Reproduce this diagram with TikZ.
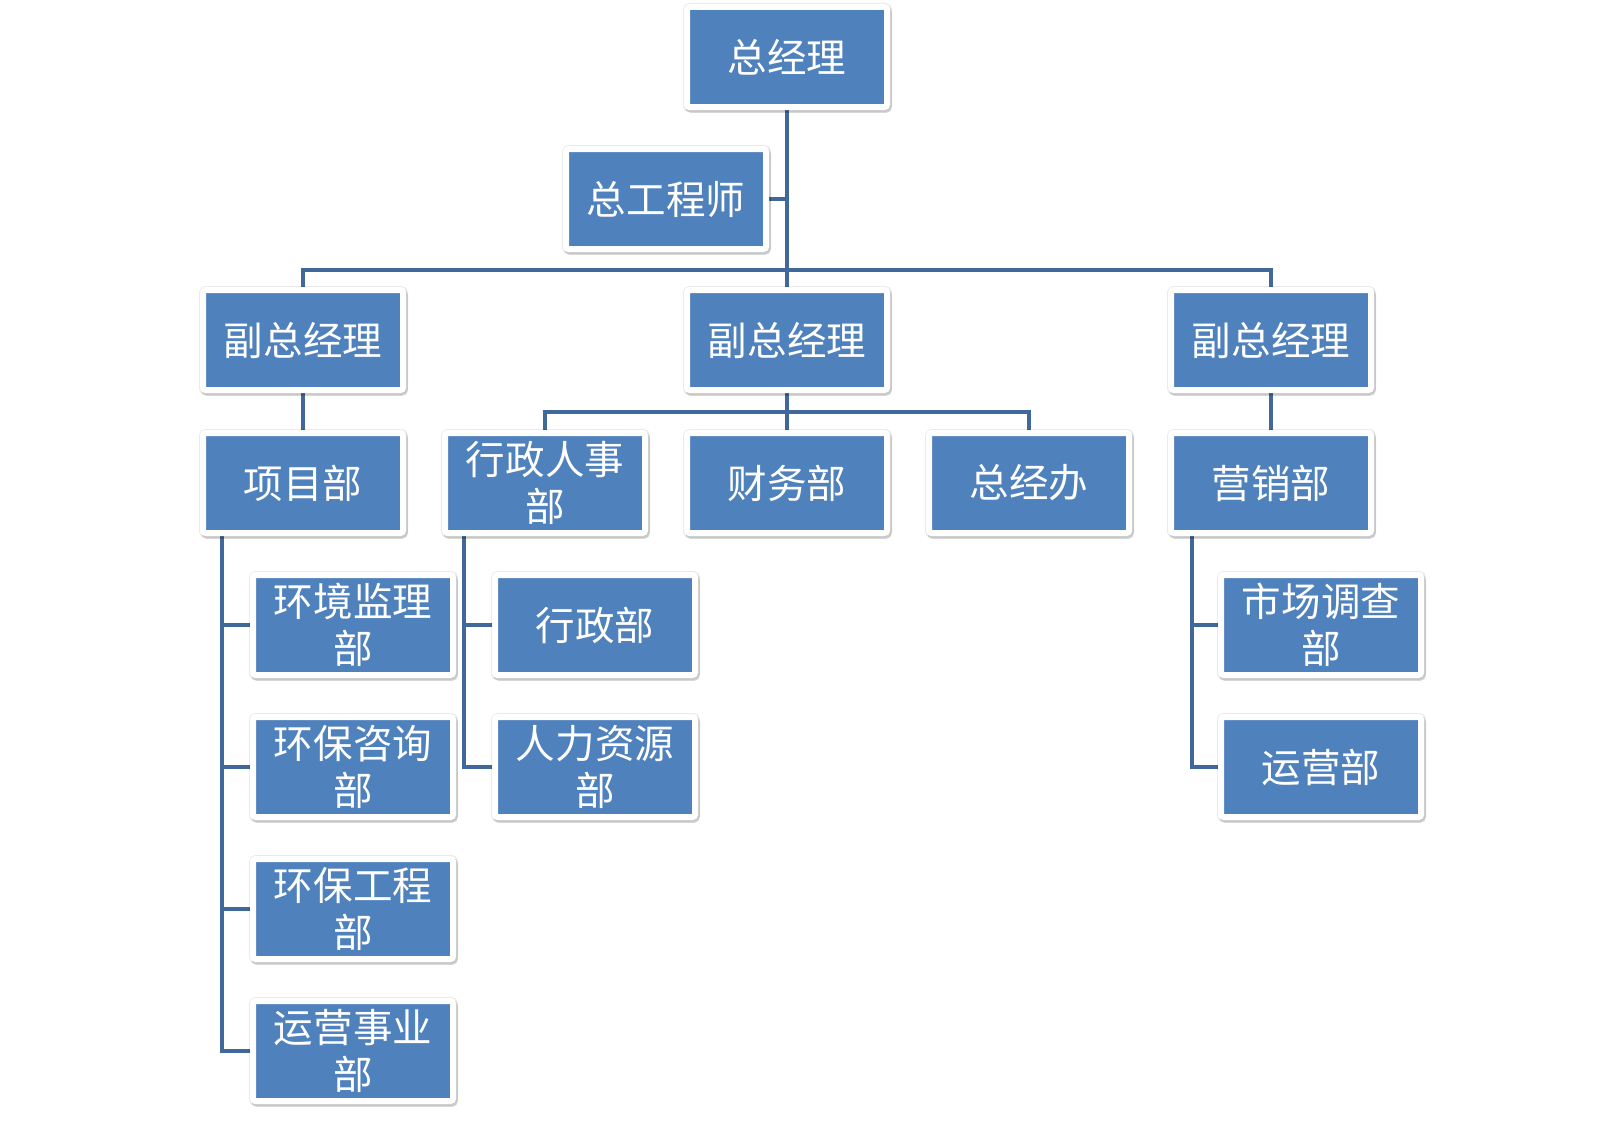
\documentclass[tikz,border=0pt]{standalone}
\usepackage{fontspec}
\newfontfamily\cjk{Noto Sans CJK SC}
\usepackage{xcolor}
\usetikzlibrary{shadows,backgrounds,calc}
\definecolor{unitblue}{RGB}{79,129,189}
\definecolor{linkblue}{RGB}{64,104,154}
\tikzset{
  unit/.style={
    draw=white, line width=1.2mm, fill=unitblue, text=white,
    rounded corners=0.5mm,
    minimum width=40mm, minimum height=20mm, inner sep=0pt, align=center,
    font=\cjk\fontsize{22.5}{27}\selectfont,
    drop shadow={shadow xshift=0.1mm, shadow yshift=-0.1mm, opacity=0.08,
      fill=black, draw=black, line width=1.8mm},
    drop shadow={shadow xshift=0.3mm, shadow yshift=-0.5mm, opacity=0.15,
      fill=black, draw=black, line width=1.3mm}
  },
  link/.style={draw=linkblue, line width=0.75mm}
}
\begin{document}
\begin{tikzpicture}[x=0.2mm, y=-0.2mm]
  \useasboundingbox (0,0) rectangle (1624,1133);
  \def\tr{22}
  % top
  \node[unit] (gm) at (787,57) {总经理};
  \node[unit] (ce) at (666,199) {总工程师};
  % vice managers
  \node[unit] (vpl) at (303,340) {副总经理};
  \node[unit] (vpm) at (787,340) {副总经理};
  \node[unit] (vpr) at (1271,340) {副总经理};
  % departments
  \node[unit] (proj) at (303,483) {项目部};
  \node[unit] (admhr) at (545,483) {行政人事\\部};
  \node[unit] (fin) at (787,483) {财务部};
  \node[unit] (office) at (1029,483) {总经办};
  \node[unit] (mkt) at (1271,483) {营销部};
  % sub departments
  \node[unit] (env1) at (353,625) {环境监理\\部};
  \node[unit] (env2) at (353,767) {环保咨询\\部};
  \node[unit] (env3) at (353,909) {环保工程\\部};
  \node[unit] (env4) at (353,1051) {运营事业\\部};
  \node[unit] (adm) at (595,625) {行政部};
  \node[unit] (hr) at (595,767) {人力资源\\部};
  \node[unit] (survey) at (1321,625) {市场调查\\部};
  \node[unit] (ops) at (1321,767) {运营部};
  \coordinate (topbar) at (787,270);
  \coordinate (midbar) at (787,412);
  \begin{scope}[on background layer]
    \draw[link] (gm.south) -- (vpm.north);
    \draw[link] (ce.east) -- (ce.east -| gm.south);
    \draw[link] (vpl.north) |- (topbar) -| (vpr.north);
    \draw[link] (vpl.south) -- (proj.north);
    \draw[link] (vpm.south) -- (fin.north);
    \draw[link] (vpr.south) -- (mkt.north);
    \draw[link] (admhr.north) |- (midbar) -| (office.north);
    % project branch
    \draw[link]
      ($(proj.south west)+(\tr,0)$) coordinate (projtrunk)
      |- (env4.west)
      (projtrunk |- env1.west) -- (env1.west)
      (projtrunk |- env2.west) -- (env2.west)
      (projtrunk |- env3.west) -- (env3.west)
    ;
    % admin branch
    \draw[link]
      ($(admhr.south west)+(\tr,0)$) coordinate (admtrunk)
      |- (hr.west)
      (admtrunk |- adm.west) -- (adm.west)
    ;
    % marketing branch
    \draw[link]
      ($(mkt.south west)+(\tr+2,0)$) coordinate (mkttrunk)
      |- (ops.west)
      (mkttrunk |- survey.west) -- (survey.west)
    ;
  \end{scope}
\end{tikzpicture}
\end{document}
